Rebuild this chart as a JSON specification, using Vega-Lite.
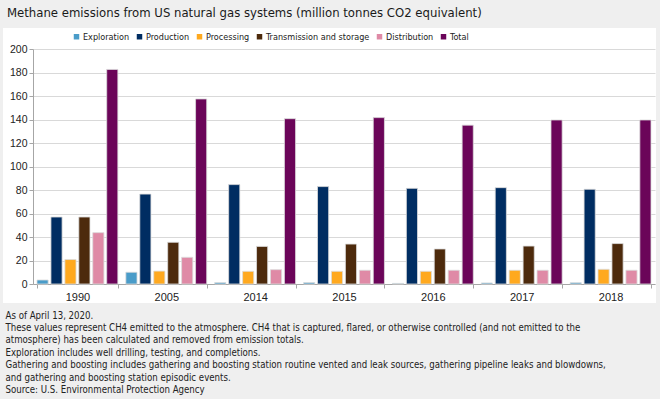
{
  "$schema": "https://vega.github.io/schema/vega-lite/v6.json",
  "width": 653,
  "height": 275,
  "autosize": {"type": "none"},
  "padding": {"left": 3, "top": 28, "right": 4, "bottom": 96},
  "background": "#efefef",
  "title": {
    "text": "Methane emissions from US natural gas systems (million tonnes CO2 equivalent)",
    "anchor": "start",
    "frame": "group",
    "font": "DejaVu Sans Condensed, Roboto, sans-serif",
    "fontSize": 13,
    "fontWeight": "normal",
    "color": "#1a1a1a",
    "offset": 8,
    "dx": 4
  },
  "data": {
    "values": [
      {"year": "1990", "category": "Exploration", "value": 3.4},
      {"year": "1990", "category": "Production", "value": 57},
      {"year": "1990", "category": "Processing", "value": 20.8},
      {"year": "1990", "category": "Transmission and storage", "value": 57},
      {"year": "1990", "category": "Distribution", "value": 43.7},
      {"year": "1990", "category": "Total", "value": 182.6},
      {"year": "2005", "category": "Exploration", "value": 10},
      {"year": "2005", "category": "Production", "value": 76.5},
      {"year": "2005", "category": "Processing", "value": 11},
      {"year": "2005", "category": "Transmission and storage", "value": 35.5},
      {"year": "2005", "category": "Distribution", "value": 22.7},
      {"year": "2005", "category": "Total", "value": 157.5},
      {"year": "2014", "category": "Exploration", "value": 1.2},
      {"year": "2014", "category": "Production", "value": 84.6},
      {"year": "2014", "category": "Processing", "value": 10.8},
      {"year": "2014", "category": "Transmission and storage", "value": 32},
      {"year": "2014", "category": "Distribution", "value": 12.2},
      {"year": "2014", "category": "Total", "value": 140.7},
      {"year": "2015", "category": "Exploration", "value": 1.2},
      {"year": "2015", "category": "Production", "value": 82.9},
      {"year": "2015", "category": "Processing", "value": 10.8},
      {"year": "2015", "category": "Transmission and storage", "value": 34},
      {"year": "2015", "category": "Distribution", "value": 11.7},
      {"year": "2015", "category": "Total", "value": 141.6},
      {"year": "2016", "category": "Exploration", "value": 0.5},
      {"year": "2016", "category": "Production", "value": 81.4},
      {"year": "2016", "category": "Processing", "value": 10.8},
      {"year": "2016", "category": "Transmission and storage", "value": 29.8},
      {"year": "2016", "category": "Distribution", "value": 11.7},
      {"year": "2016", "category": "Total", "value": 135.2},
      {"year": "2017", "category": "Exploration", "value": 0.9},
      {"year": "2017", "category": "Production", "value": 82},
      {"year": "2017", "category": "Processing", "value": 11.7},
      {"year": "2017", "category": "Transmission and storage", "value": 32.3},
      {"year": "2017", "category": "Distribution", "value": 11.7},
      {"year": "2017", "category": "Total", "value": 139.6},
      {"year": "2018", "category": "Exploration", "value": 1.1},
      {"year": "2018", "category": "Production", "value": 80.6},
      {"year": "2018", "category": "Processing", "value": 12.5},
      {"year": "2018", "category": "Transmission and storage", "value": 34.4},
      {"year": "2018", "category": "Distribution", "value": 11.7},
      {"year": "2018", "category": "Total", "value": 139.6}
    ]
  },
  "mark": {"type": "bar", "stroke": "#dcdcdc", "strokeWidth": 0.8},
  "encoding": {
    "x": {
      "field": "year",
      "type": "nominal",
      "scale": {"range": [30, 652], "paddingInner": 0.09, "paddingOuter": 0.045},
      "axis": {
        "offset": -19,
        "tickBand": "extent",
        "tickSize": 4,
        "labelPadding": 3,
        "labelAngle": 0,
        "domainColor": "#a6a6a6",
        "tickColor": "#a6a6a6",
        "labelFont": "Liberation Sans",
        "labelFontSize": 11,
        "labelColor": "#222222",
        "title": [
          "As of April 13, 2020.",
          "These values represent CH4 emitted to the atmosphere. CH4 that is captured, flared, or otherwise controlled (and not emitted to the",
          "atmosphere) has been calculated and removed from emission totals.",
          "Exploration includes well drilling, testing, and completions.",
          "Gathering and boosting includes gathering and boosting station routine vented and leak sources, gathering pipeline leaks and blowdowns,",
          "and gathering and boosting station episodic events.",
          "Source: U.S. Environmental Protection Agency"
        ],
        "titleAnchor": "start",
        "titleAlign": "left",
        "titleX": 2,
        "titleY": 26,
        "titleBaseline": "top",
        "titleFont": "DejaVu Sans Condensed, Roboto, sans-serif",
        "titleFontSize": 9.6,
        "titleFontWeight": "normal",
        "titleColor": "#222222",
        "titleLineHeight": 12.4
      }
    },
    "xOffset": {
      "field": "category",
      "type": "nominal",
      "sort": ["Exploration", "Production", "Processing", "Transmission and storage", "Distribution", "Total"],
      "scale": {"paddingInner": 0.2, "paddingOuter": 0}
    },
    "y": {
      "field": "value",
      "type": "quantitative",
      "scale": {"domain": [0, 200], "range": [256, 21], "nice": false},
      "axis": {
        "offset": -30,
        "values": [0, 20, 40, 60, 80, 100, 120, 140, 160, 180, 200],
        "tickSize": 4,
        "labelPadding": 2,
        "domainColor": "#a6a6a6",
        "tickColor": "#a6a6a6",
        "gridColor": "#d9d9d9",
        "labelFont": "Liberation Sans",
        "labelFontSize": 10.5,
        "labelColor": "#222222",
        "title": null
      }
    },
    "color": {
      "field": "category",
      "type": "nominal",
      "sort": ["Exploration", "Production", "Processing", "Transmission and storage", "Distribution", "Total"],
      "scale": {
        "domain": ["Exploration", "Production", "Processing", "Transmission and storage", "Distribution", "Total"],
        "range": ["#4a9cc9", "#002d62", "#ffa91f", "#4d2a0c", "#df8aa6", "#6b0559"]
      },
      "legend": {
        "orient": "none",
        "legendX": 69,
        "legendY": 4,
        "direction": "horizontal",
        "title": null,
        "symbolType": "square",
        "symbolSize": 30,
        "symbolStrokeWidth": 0,
        "labelFont": "DejaVu Sans Condensed, Roboto, sans-serif",
        "labelFontSize": 9,
        "labelColor": "#222222",
        "columnPadding": 5,
        "labelOffset": 2
      }
    }
  },
  "config": {"view": {"fill": "white", "stroke": null}}
}
